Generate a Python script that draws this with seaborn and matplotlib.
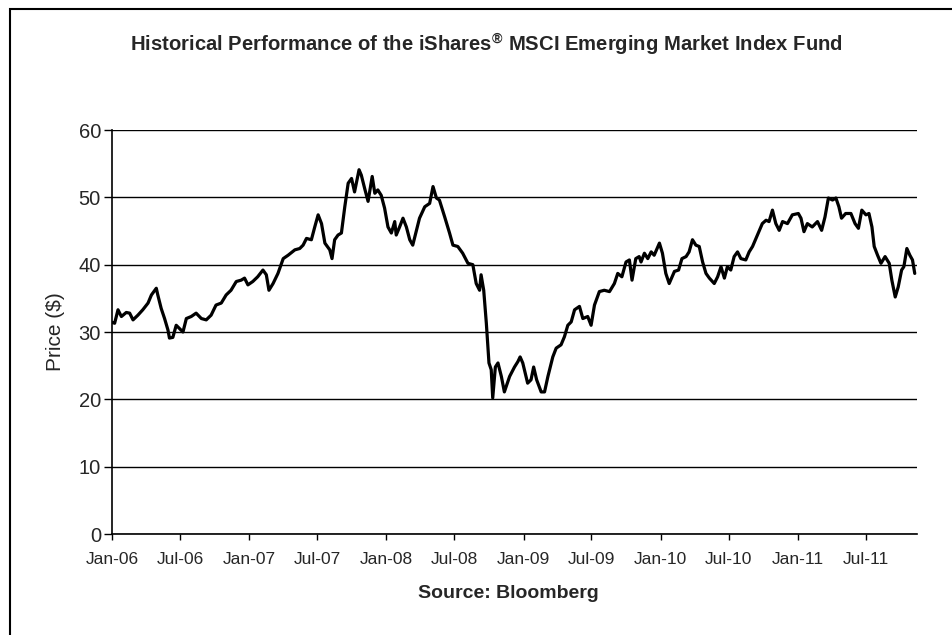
import matplotlib
matplotlib.use("Agg")
import matplotlib.pyplot as plt
import matplotlib.dates as mdates
from matplotlib.patches import Rectangle
import seaborn as sns
import pandas as pd

dates_2006 = ["2006-01-03", "2006-01-08", "2006-01-17", "2006-01-26", "2006-02-08", "2006-02-17",
              "2006-02-26", "2006-03-11", "2006-03-24", "2006-04-07", "2006-04-16", "2006-04-29",
              "2006-05-03", "2006-05-12", "2006-05-21", "2006-05-30", "2006-06-03", "2006-06-12",
              "2006-06-21", "2006-06-30", "2006-07-09", "2006-07-18", "2006-07-31", "2006-08-13",
              "2006-08-27", "2006-09-09", "2006-09-22", "2006-10-05", "2006-10-19", "2006-11-01",
              "2006-11-14", "2006-11-28", "2006-12-11", "2006-12-20", "2006-12-29"]
price_2006 = [31.4, 31.3, 33.3, 32.3, 32.9, 32.8, 31.8, 32.5, 33.3, 34.3, 35.5, 36.5,
              35.5, 33.5, 32.0, 30.3, 29.1, 29.2, 31.0, 30.5, 30.0, 32.0, 32.3, 32.8,
              32.0, 31.8, 32.5, 34.0, 34.3, 35.5, 36.2, 37.5, 37.7, 38.0, 37.0]

dates_2007 = ["2007-01-11", "2007-01-24", "2007-02-07", "2007-02-16", "2007-02-23", "2007-03-06",
              "2007-03-19", "2007-04-02", "2007-04-15", "2007-05-03", "2007-05-16", "2007-05-25",
              "2007-06-03", "2007-06-16", "2007-06-25", "2007-07-04", "2007-07-13", "2007-07-22",
              "2007-08-04", "2007-08-10", "2007-08-17", "2007-08-26", "2007-09-04", "2007-09-13",
              "2007-09-22", "2007-10-01", "2007-10-09", "2007-10-21", "2007-10-27", "2007-11-05",
              "2007-11-14", "2007-11-25", "2007-12-02", "2007-12-10", "2007-12-19", "2007-12-28"]
price_2007 = [37.5, 38.2, 39.2, 38.5, 36.2, 37.2, 38.7, 40.9, 41.4, 42.2, 42.4, 42.9,
              43.9, 43.7, 45.6, 47.4, 46.1, 43.2, 42.2, 40.9, 43.7, 44.4, 44.7, 48.6,
              52.1, 52.8, 50.8, 54.1, 53.3, 51.3, 49.4, 53.1, 50.6, 51.1, 50.3, 48.4]

dates_2008 = ["2008-01-06", "2008-01-15", "2008-01-24", "2008-01-28", "2008-02-06", "2008-02-15",
              "2008-02-24", "2008-03-04", "2008-03-12", "2008-03-21", "2008-03-30", "2008-04-13",
              "2008-04-26", "2008-05-05", "2008-05-14", "2008-05-22", "2008-06-05", "2008-06-18",
              "2008-06-27", "2008-07-10", "2008-07-23", "2008-08-06", "2008-08-19", "2008-08-28",
              "2008-09-06", "2008-09-10", "2008-09-17", "2008-09-24", "2008-10-01", "2008-10-07",
              "2008-10-11", "2008-10-18", "2008-10-25", "2008-11-03", "2008-11-11", "2008-11-25",
              "2008-12-08", "2008-12-17", "2008-12-23", "2008-12-30"]
price_2008 = [45.6, 44.7, 46.4, 44.4, 45.6, 46.9, 45.6, 43.7, 42.9, 44.9, 46.9, 48.6,
              49.1, 51.6, 49.9, 49.6, 47.1, 44.7, 42.9, 42.7, 41.7, 40.2, 40.0, 37.2,
              36.2, 38.5, 36.2, 31.3, 25.4, 24.4, 20.2, 24.8, 25.4, 23.4, 21.1, 23.4,
              24.8, 25.6, 26.3, 25.4]

dates_2009 = ["2009-01-12", "2009-01-21", "2009-01-28", "2009-02-05", "2009-02-17", "2009-02-26",
              "2009-03-07", "2009-03-20", "2009-03-29", "2009-04-11", "2009-04-20", "2009-04-29",
              "2009-05-08", "2009-05-17", "2009-05-30", "2009-06-08", "2009-06-21", "2009-06-30",
              "2009-07-09", "2009-07-22", "2009-08-04", "2009-08-18", "2009-08-31", "2009-09-09",
              "2009-09-20", "2009-10-01", "2009-10-10", "2009-10-17", "2009-10-27", "2009-11-05",
              "2009-11-10", "2009-11-19", "2009-11-28", "2009-12-07", "2009-12-15", "2009-12-29"]
price_2009 = [22.4, 22.9, 24.8, 22.9, 21.1, 21.1, 23.4, 26.3, 27.6, 28.1, 29.3, 31.0,
              31.5, 33.3, 33.8, 32.0, 32.3, 31.0, 34.0, 36.0, 36.2, 36.0, 37.2, 38.7,
              38.2, 40.4, 40.7, 37.7, 40.9, 41.2, 40.4, 41.7, 40.9, 41.9, 41.4, 43.2]

dates_2010 = ["2010-01-06", "2010-01-15", "2010-01-24", "2010-02-07", "2010-02-18", "2010-02-27",
              "2010-03-10", "2010-03-18", "2010-03-27", "2010-04-05", "2010-04-14", "2010-04-23",
              "2010-05-02", "2010-05-11", "2010-05-24", "2010-06-02", "2010-06-11", "2010-06-20",
              "2010-06-28", "2010-07-07", "2010-07-16", "2010-07-25", "2010-08-03", "2010-08-16",
              "2010-08-25", "2010-09-03", "2010-09-16", "2010-09-29", "2010-10-09", "2010-10-17",
              "2010-10-26", "2010-11-04", "2010-11-13", "2010-11-22", "2010-12-05", "2010-12-18"]
price_2010 = [41.7, 38.7, 37.2, 39.0, 39.2, 40.9, 41.2, 41.9, 43.7, 42.9, 42.7, 40.4,
              38.7, 38.0, 37.2, 38.2, 39.7, 38.0, 39.7, 39.2, 41.2, 41.9, 40.9, 40.7,
              41.9, 42.7, 44.4, 46.1, 46.6, 46.4, 48.1, 46.1, 45.1, 46.4, 46.1, 47.4]

dates_2011 = ["2011-01-03", "2011-01-10", "2011-01-18", "2011-01-27", "2011-02-09", "2011-02-23",
              "2011-03-06", "2011-03-15", "2011-03-24", "2011-04-04", "2011-04-13", "2011-04-21",
              "2011-04-28", "2011-05-09", "2011-05-23", "2011-06-03", "2011-06-12", "2011-06-21",
              "2011-07-02", "2011-07-10", "2011-07-18", "2011-07-24", "2011-08-02", "2011-08-11",
              "2011-08-22", "2011-09-02", "2011-09-09", "2011-09-18", "2011-09-26", "2011-10-05",
              "2011-10-11", "2011-10-19", "2011-10-27", "2011-11-03", "2011-11-09"]
price_2011 = [47.6, 46.9, 44.9, 46.1, 45.6, 46.4, 45.1, 47.1, 49.9, 49.6, 49.9, 48.6,
              46.9, 47.6, 47.6, 46.1, 45.4, 48.1, 47.4, 47.6, 45.6, 42.7, 41.4, 40.2,
              41.2, 40.2, 37.7, 35.2, 36.7, 39.2, 39.7, 42.4, 41.4, 40.7, 38.7]

y_ticks = [0, 10, 20, 30, 40, 50, 60]
title_text = "Historical Performance of the iShares$^{\u00ae}$ MSCI Emerging Market Index Fund"
y_label = "Price ($)"
source_text = "Source: Bloomberg"

df = pd.DataFrame({
    "Date": pd.to_datetime(dates_2006 + dates_2007 + dates_2008 + dates_2009 + dates_2010 + dates_2011),
    "Price": price_2006 + price_2007 + price_2008 + price_2009 + price_2010 + price_2011,
})

sns.set_style("white")
plt.rcParams["font.family"] = ["Liberation Sans", "DejaVu Sans"]
plt.rcParams["mathtext.fontset"] = "custom"
plt.rcParams["mathtext.rm"] = "Liberation Sans"
plt.rcParams["mathtext.bf"] = "Liberation Sans:bold"
plt.rcParams["mathtext.it"] = "Liberation Sans:italic"
plt.rcParams["mathtext.default"] = "regular"

fig = plt.figure(figsize=(9.53, 6.35), dpi=100)
ax = fig.add_axes([112 / 953, 101 / 635, (917 - 112) / 953, (534 - 130) / 635])

sns.lineplot(data=df, x="Date", y="Price", ax=ax, color="black", linewidth=2.3)

ax.set_ylim(0, 60)
ax.set_yticks(y_ticks)
ax.set_xlim(pd.Timestamp("2006-01-01"), pd.Timestamp("2011-11-15"))
ax.xaxis.set_major_locator(mdates.MonthLocator(bymonth=[1, 7]))
ax.xaxis.set_major_formatter(mdates.DateFormatter("%b-%y"))

ax.yaxis.grid(True, color="black", linewidth=1.0)
ax.xaxis.grid(False)
for s in ["top", "right"]:
    ax.spines[s].set_visible(False)
for s in ["left", "bottom"]:
    ax.spines[s].set_color("black")
    ax.spines[s].set_linewidth(1.2)

ax.tick_params(axis="x", which="major", direction="out", length=4, width=1, color="black",
               labelsize=12.5, pad=9, bottom=True)
ax.tick_params(axis="y", which="major", direction="out", length=6, width=1, color="black",
               labelsize=14.5, pad=2, left=True)
ax.set_xlabel("")
ax.set_ylabel(y_label, fontsize=15, labelpad=10)

fig.text(486 / 953, 1 - 45 / 635, title_text, ha="center", va="center",
         fontsize=14.6, fontweight="bold")
fig.text(508 / 953, 1 - 594 / 635, source_text, ha="center", va="center",
         fontsize=14, fontweight="bold")

# outer frame (top and left edges visible)
fig.patches.append(Rectangle((10 / 953, -0.05), 1.2, 1 - 9 / 635 + 0.05,
                             transform=fig.transFigure, fill=False,
                             edgecolor="black", linewidth=1.5))

fig.savefig("out.png", dpi=100)
